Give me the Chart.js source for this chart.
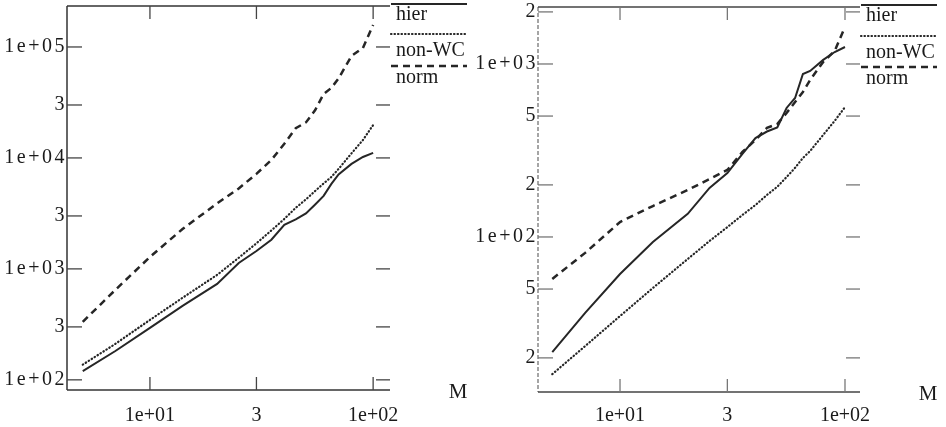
<!DOCTYPE html>
<html>
<head>
<meta charset="utf-8">
<script src="https://cdn.jsdelivr.net/npm/chart.js@4.4.1/dist/chart.umd.min.js"></script>
<style>
  html, body { margin: 0; padding: 0; background: #fff; }
  #wrap { position: relative; width: 946px; height: 427px; overflow: hidden; }
  #leftBox { position: absolute; left: 0; top: 0; width: 470px; height: 427px; }
  #rightBox { position: absolute; left: 470px; top: 0; width: 476px; height: 427px; }
</style>
</head>
<body>
<div id="wrap">
  <div id="leftBox"><canvas id="leftChart" width="470" height="427"></canvas></div>
  <div id="rightBox"><canvas id="rightChart" width="476" height="427"></canvas></div>
</div>
<script>
const mValues = [5, 7, 10, 14, 20, 25, 30, 35, 40, 45, 50, 55, 60, 65, 70, 80, 90, 100];

// left panel
const leftHier  = [120, 182, 294, 464, 732, 1130, 1450, 1830, 2490, 2790, 3160, 3810, 4550, 5840, 7100, 8830, 10200, 11100];
const leftNonWC = [137, 211, 347, 549, 883, 1260, 1700, 2220, 2820, 3550, 4230, 5040, 5890, 6740, 7960, 11000, 14500, 19800];
const leftNorm  = [333, 647, 1280, 2290, 3890, 5310, 7180, 9600, 13400, 18500, 20900, 27000, 37700, 42800, 52000, 83000, 98000, 158000];

// right panel
const rightHier  = [21.6, 36.4, 61.1, 93.6, 136, 192, 234, 302, 373, 407, 430, 557, 636, 875, 911, 1056, 1173, 1254];
const rightNonWC = [16.1, 23.4, 34.9, 50.7, 74.6, 94.8, 114, 134, 153, 175, 195, 222, 251, 286, 314, 389, 469, 564];
const rightNorm  = [57.2, 80.9, 122, 151, 187, 216, 244, 310, 364, 427, 450, 521, 603, 689, 809, 1028, 1189, 1636];

const xTickValues = [10, 30, 100];
const xTickLabels = ["1e+01", "3", "1e+02"];
const leftYTickValues = [100, 300, 1000, 3000, 10000, 30000, 100000];
const leftYTickLabels = ["1e+02", "3", "1e+03", "3", "1e+04", "3", "1e+05"];
const rightYTickValues = [20, 50, 100, 200, 500, 1000, 2000];
const rightYTickLabels = ["2", "5", "1e+02", "2", "5", "1e+03", "2"];
const seriesNames = ["hier", "non-WC", "norm"];

const INK = "#262626";
const SERIF = "'Liberation Serif', 'Times New Roman', serif";
const lineStyles = [
  { width: 2,   dash: [],       cap: "butt" },
  { width: 2.2, dash: [0.5, 3], cap: "round" },
  { width: 2.5, dash: [7, 5],   cap: "butt" }
];

function seg(ctx, x0, y0, x1, y1) {
  ctx.beginPath();
  ctx.moveTo(x0, y0);
  ctx.lineTo(x1, y1);
  ctx.stroke();
}

const framePlugin = {
  id: "frame",
  beforeDraw(chart) {
    // wider tracking on the y tick labels, like the scan
    const s = chart.scales.y;
    if (!s._spaced) {
      const draw = s.drawLabels;
      s.drawLabels = function (area) {
        this.ctx.save();
        this.ctx.letterSpacing = "2.5px";
        draw.call(this, area);
        this.ctx.restore();
      };
      s._spaced = true;
    }
  },
  afterDraw(chart, args, o) {
    const { ctx, chartArea: a, scales: { x, y } } = chart;
    ctx.save();

    // frame
    ctx.lineWidth = 1.5;
    ctx.strokeStyle = o.sideColor;
    ctx.setLineDash(o.sideDash);
    seg(ctx, a.left, a.top, a.left, a.bottom);
    ctx.setLineDash([]);
    ctx.strokeStyle = o.axisColor;
    seg(ctx, a.left, a.bottom, a.right, a.bottom);
    seg(ctx, a.left, a.top, a.right, a.top);

    // inward ticks on all four sides
    ctx.lineWidth = 1.3;
    ctx.strokeStyle = o.tickColor;
    y.ticks.forEach(t => {
      const py = y.getPixelForValue(t.value);
      seg(ctx, a.left, py, a.left + 15, py);
      seg(ctx, a.right - 14, py, a.right, py);
    });
    x.ticks.forEach(t => {
      const px = x.getPixelForValue(t.value);
      seg(ctx, px, a.bottom, px, a.bottom - 13);
      seg(ctx, px, a.top, px, a.top + 13);
    });

    // legend to the right of the plot
    ctx.font = "20px " + SERIF;
    ctx.fillStyle = "#1a1a1a";
    ctx.textBaseline = "middle";
    ctx.textAlign = "left";
    lineStyles.forEach((st, i) => {
      ctx.strokeStyle = INK;
      ctx.lineWidth = st.width;
      ctx.lineCap = st.cap;
      ctx.setLineDash(st.dash);
      seg(ctx, a.right + 1, o.legendLineY[i], a.right + 77, o.legendLineY[i]);
      ctx.setLineDash([]);
      ctx.fillText(seriesNames[i], a.right + 6, o.legendTextY[i]);
    });

    // axis name
    ctx.font = "21px " + SERIF;
    ctx.textAlign = "center";
    ctx.fillText("M", a.right + 68, a.bottom + 2);
    ctx.restore();
  }
};

function makeSets(hier, nonwc, norm) {
  return [hier, nonwc, norm].map((vals, i) => ({
    label: seriesNames[i],
    data: mValues.map((m, j) => ({ x: m, y: vals[j] })),
    borderColor: INK,
    borderWidth: lineStyles[i].width,
    borderDash: lineStyles[i].dash,
    borderCapStyle: lineStyles[i].cap,
    pointRadius: 0,
    tension: 0,
    fill: false
  }));
}

function panel(canvasId, sets, cfg) {
  return new Chart(document.getElementById(canvasId), {
    type: "line",
    data: { datasets: sets },
    options: {
      responsive: false,
      animation: false,
      devicePixelRatio: 1,
      layout: { padding: { top: cfg.top, right: cfg.right, left: 0, bottom: 0 } },
      plugins: {
        legend: { display: false },
        tooltip: { enabled: false },
        frame: cfg.frame
      },
      scales: {
        x: {
          type: "logarithmic",
          min: cfg.xMin,
          max: cfg.xMax,
          grid: { display: false, drawTicks: false },
          border: { display: false },
          afterBuildTicks: s => { s.ticks = xTickValues.map(v => ({ value: v })); },
          afterFit: s => { s.height = cfg.xHeight; s.paddingLeft = 0; s.paddingRight = 0; },
          ticks: {
            autoSkip: false,
            maxRotation: 0,
            padding: cfg.xPad,
            color: "#1a1a1a",
            font: { family: SERIF, size: 20 },
            callback: (v, i) => xTickLabels[i]
          }
        },
        y: {
          type: "logarithmic",
          min: cfg.yMin,
          max: cfg.yMax,
          grid: { display: false, drawTicks: false },
          border: { display: false },
          afterBuildTicks: s => { s.ticks = cfg.yTicks.map(v => ({ value: v })); },
          afterFit: s => { s.width = cfg.yWidth; s.paddingTop = 0; s.paddingBottom = 0; },
          ticks: {
            autoSkip: false,
            padding: 0,
            color: "#1a1a1a",
            font: { family: SERIF, size: 20 },
            callback: (v, i) => cfg.yLabels[i]
          }
        }
      }
    },
    plugins: [framePlugin]
  });
}

panel("leftChart", makeSets(leftHier, leftNonWC, leftNorm), {
  top: 6, right: 80, yWidth: 67, xHeight: 37, xPad: 14,
  xMin: 4.25, xMax: 119, yMin: 81, yMax: 234000,
  yTicks: leftYTickValues, yLabels: leftYTickLabels,
  frame: {
    sideColor: "#333", sideDash: [], axisColor: "#333", tickColor: "#444",
    legendLineY: [4, 34, 66], legendTextY: [15, 51, 78]
  }
});

panel("rightChart", makeSets(rightHier, rightNonWC, rightNorm), {
  top: 7, right: 86, yWidth: 68, xHeight: 35, xPad: 12,
  xMin: 4.32, xMax: 116.6, yMin: 12.7, yMax: 2135,
  yTicks: rightYTickValues, yLabels: rightYTickLabels,
  frame: {
    sideColor: "#888", sideDash: [4, 2], axisColor: "#444", tickColor: "#777",
    legendLineY: [5, 36, 67], legendTextY: [16, 53, 79]
  }
});
</script>
</body>
</html>
